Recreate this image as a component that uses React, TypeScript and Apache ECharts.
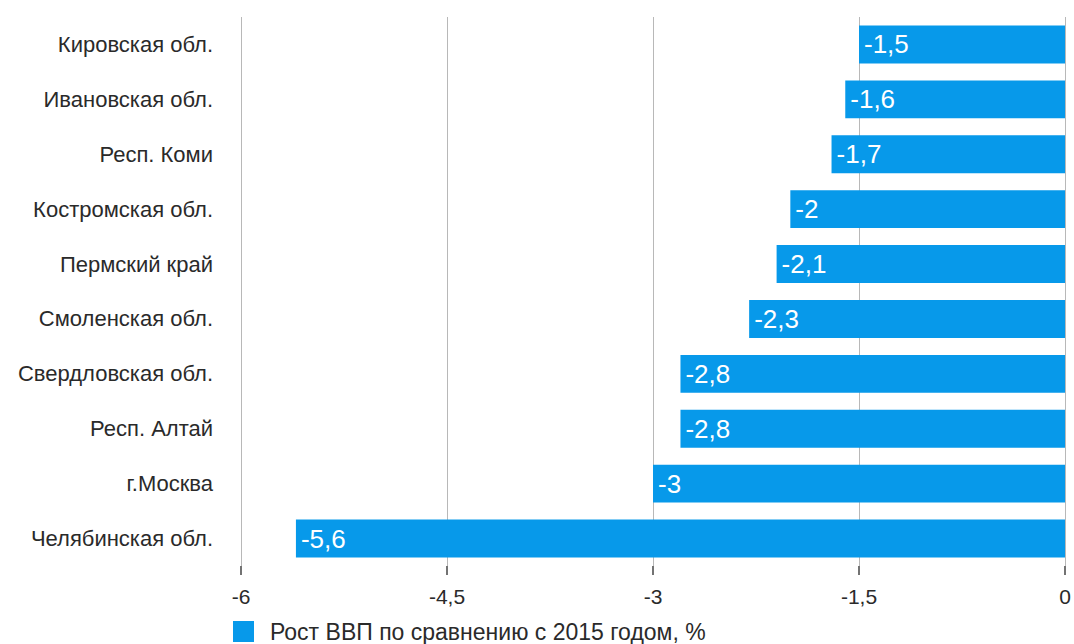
import React, { useEffect, useRef } from "react";
import * as echarts from "echarts";

const categories = [
  "Кировская обл.",
  "Ивановская обл.",
  "Респ. Коми",
  "Костромская обл.",
  "Пермский край",
  "Смоленская обл.",
  "Свердловская обл.",
  "Респ. Алтай",
  "г.Москва",
  "Челябинская обл.",
];
const values = [-1.5, -1.6, -1.7, -2, -2.1, -2.3, -2.8, -2.8, -3, -5.6];
const seriesName = "Рост ВВП по сравнению с 2015 годом, %";

const fmt = (v: number) => String(v).replace(".", ",");

export default function App() {
  const ref = useRef<HTMLDivElement>(null);
  useEffect(() => {
    const chart = echarts.init(ref.current!, null, { renderer: "svg" });
    const font = "'Liberation Sans', Arial, sans-serif";
    chart.setOption({
      animation: false,
      textStyle: { fontFamily: font },
      grid: { left: 241, right: 9, top: 17, bottom: 78, containLabel: false },
      legend: {
        data: [seriesName],
        left: 233,
        top: 620,
        itemWidth: 21,
        itemHeight: 21,
        itemGap: 10,
        textStyle: { fontSize: 23, color: "#2a2a2a", fontFamily: font, padding: [0, 0, 0, 11] },
        icon: "rect",
        padding: 0,
      },
      xAxis: {
        type: "value",
        min: -6,
        max: 0,
        interval: 1.5,
        axisLine: { show: false },
        axisTick: { show: true, length: 9, lineStyle: { color: "#444", width: 1.5 } },
        axisLabel: {
          margin: 20,
          fontSize: 21,
          color: "#2a2a2a",
          fontFamily: font,
          formatter: (v: number) => fmt(v),
        },
        splitLine: { show: true, lineStyle: { color: "#b8b8b8", width: 1 } },
      },
      yAxis: {
        type: "category",
        data: categories,
        inverse: true,
        axisLine: { show: false },
        axisTick: { show: false },
        axisLabel: { margin: 28, fontSize: 22, color: "#2a2a2a", fontFamily: font },
      },
      series: [
        {
          name: seriesName,
          type: "bar",
          data: values,
          barCategoryGap: "31%",
          itemStyle: { color: "#0799ea" },
          label: {
            show: true,
            position: "insideLeft",
            distance: 5,
            color: "#fff",
            fontSize: 26,
            fontFamily: font,
            formatter: (p: any) => fmt(p.value),
          },
        },
      ],
    });
    return () => chart.dispose();
  }, []);
  return <div ref={ref} style={{ width: 1074, height: 644, position: "absolute", left: 0, top: 0 }} />;
}
